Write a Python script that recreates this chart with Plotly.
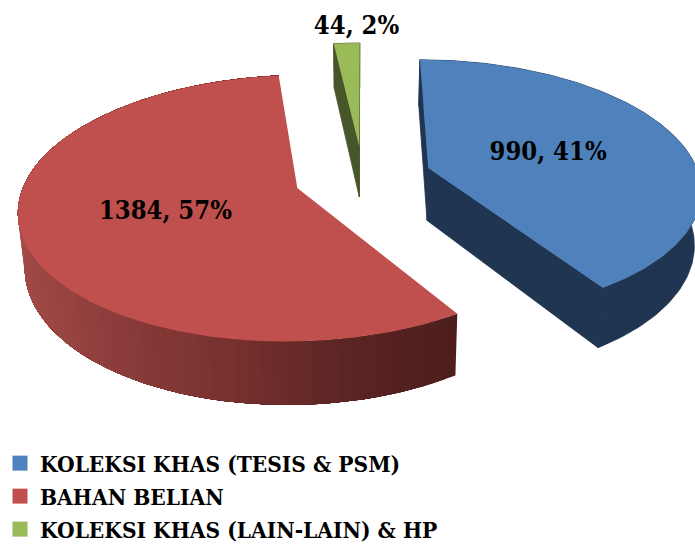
import numpy as np
import plotly.graph_objects as go

categories = ["KOLEKSI KHAS (TESIS &amp; PSM)", "BAHAN BELIAN", "KOLEKSI KHAS (LAIN-LAIN) &amp; HP"]
values = [990, 1384, 44]
top_colors = ["#4F81BD", "#C0504D", "#9BBB59"]
wall_colors = ["#1F3552", None, "#47552A"]
label_radius = [0.5, 0.52, 1.2]
label_dx = [-5, 8, 12]
label_dy = [3, 1, 2]

W, H = 695, 560  # page is cropped to 546 by the window; the extra height gives the legend room
VX, CY = 363, 177
A, B, K, D = 271, 127, 0.15, 53
EXPLODE = 0.254
FONT = "DejaVu Serif Condensed"


def project(u, v, z=0.0):
    s = 1.0 / (1.0 + K * np.asarray(v, dtype=float))
    conv = 1.0 - 0.02 * z
    return VX + A * np.asarray(u) * s * conv, CY - B * np.asarray(v) * s + D * z * s


total = sum(values)
fracs = [v / total for v in values]
starts = np.cumsum([0] + fracs[:-1]) * 2 * np.pi
ends = starts + np.array(fracs) * 2 * np.pi

fig = go.Figure()


def poly(x, y, color, line=0.0):
    x, y = list(x), list(y)
    fig.add_trace(go.Scatter(x=x + [x[0]], y=y + [y[0]], mode="lines", fill="toself",
                             fillcolor=color, line=dict(color=color, width=line),
                             hoverinfo="skip", showlegend=False))


def lerp_color(t):
    stops = [(0.0, (162, 74, 71)), (0.2, (142, 62, 60)), (0.52, (117, 48, 46)),
             (0.77, (90, 36, 35)), (1.0, (78, 30, 28))]
    for (t0, c0), (t1, c1) in zip(stops, stops[1:]):
        if t <= t1:
            f = (t - t0) / (t1 - t0)
            return "rgb(%d,%d,%d)" % tuple(round(a + (b - a) * f) for a, b in zip(c0, c1))
    return "rgb(78,30,28)"


def wedge(i):
    mid = (starts[i] + ends[i]) / 2
    ex, ev = EXPLODE * np.sin(mid), EXPLODE * np.cos(mid)
    th = np.linspace(starts[i], ends[i], 160)
    return ex, ev, th, np.concatenate([[ex], ex + np.sin(th)]), np.concatenate([[ev], ev + np.cos(th)])


def band(ua, va, color, line=0.0):
    xa, ya = project(ua, va)
    xc, yc = project(ua, va, 1.0)
    poly(np.concatenate([xa, xc[::-1]]), np.concatenate([ya, yc[::-1]]), color, line)


# draw order: back to front
for i in [2, 0, 1]:
    ex, ev, th, u, v = wedge(i)
    xt, yt = project(u, v)
    if wall_colors[i]:
        band(ex + np.sin(th), ev + np.cos(th), wall_colors[i], 0.8)
        band(np.array([ex, ex + np.sin(th[0])]), np.array([ev, ev + np.cos(th[0])]), wall_colors[i], 0.8)
        band(np.array([ex, ex + np.sin(th[-1])]), np.array([ev, ev + np.cos(th[-1])]), wall_colors[i], 0.8)
    else:
        # outer wall shaded right-to-left: each band paints over the rest of the arc
        xmin, xmax = xt.min(), xt[1]
        th_w = np.linspace(starts[i], ends[i], 90)
        uw, vw = ex + np.sin(th_w), ev + np.cos(th_w)
        xa, _ = project(uw, vw)
        for j in range(len(th_w) - 1):
            t = float(np.clip((xa[j] - xmin) / (xmax - xmin), 0, 1))
            band(uw[j:], vw[j:], lerp_color(t))
    poly(xt, yt, top_colors[i])

# data labels
for i in range(3):
    ex, ev, _, _, _ = wedge(i)
    mid = (starts[i] + ends[i]) / 2
    r = label_radius[i]
    lx, ly = project(ex + r * np.sin(mid), ev + r * np.cos(mid))
    fig.add_trace(go.Scatter(x=[float(lx) + label_dx[i]], y=[float(ly) + label_dy[i]], mode="text",
                             text=[f"{values[i]}, {round(fracs[i] * 100)}%"], textposition="middle center",
                             textfont=dict(family=FONT, size=25.4, color="#000000", weight="bold"),
                             hoverinfo="skip", showlegend=False, cliponaxis=False))

# legend
for i in range(3):
    fig.add_trace(go.Scatter(x=[None], y=[None], mode="markers", name=categories[i], legendgroup=f"g{i}",
                             marker=dict(symbol="square", size=15, color=top_colors[i])))

fig.update_layout(
    width=W, height=H, margin=dict(l=0, r=0, t=0, b=0, autoexpand=False),
    paper_bgcolor="white", plot_bgcolor="white",
    xaxis=dict(range=[0, W], visible=False, fixedrange=True),
    yaxis=dict(range=[H, 0], visible=False, fixedrange=True),
    legend=dict(x=0, y=1 - 442 / H, xanchor="left", yanchor="top", bgcolor="rgba(0,0,0,0)",
                font=dict(family=FONT, size=22.5, color="#000000", weight="bold"),
                tracegroupgap=0.75, traceorder="grouped", itemsizing="trace",
                itemclick=False, itemdoubleclick=False),
)
fig.write_html("out.html", config={"displayModeBar": False},
               post_script="document.body.style.margin='0';document.body.style.overflow='hidden';")
